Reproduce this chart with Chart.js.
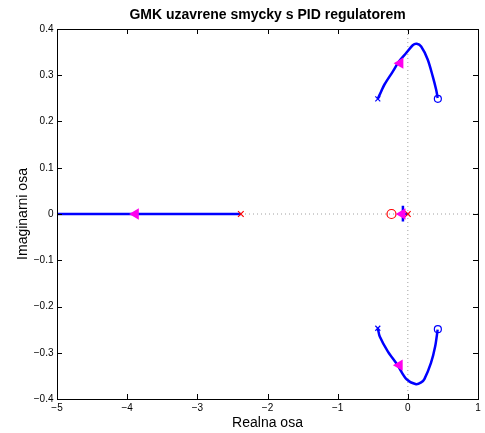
<!DOCTYPE html>
<html>
<head>
<meta charset="utf-8">
<script src="https://cdn.jsdelivr.net/npm/chart.js@4.4.1/dist/chart.umd.min.js"></script>
<style>
  body { margin: 0; background: #fff; }
  canvas { display: block; }
</style>
</head>
<body>
<canvas id="rlocus" width="485" height="433"></canvas>
<script>
const realAxisBranch = [[-2.38, 0], [-5, 0]];
const upperBranch = [
  [-0.428, 0.249], [-0.38, 0.265], [-0.333, 0.28], [-0.215, 0.308], [-0.13, 0.329],
  [-0.024, 0.348], [0.07, 0.365], [0.127, 0.368], [0.19, 0.362], [0.283, 0.334],
  [0.354, 0.298], [0.403, 0.269], [0.425, 0.251]
];
const lowerBranch = [
  [-0.428, -0.247], [-0.40, -0.265], [-0.286, -0.297], [-0.15, -0.326], [-0.02, -0.357],
  [0.118, -0.368], [0.19, -0.364], [0.236, -0.357], [0.33, -0.322], [0.39, -0.286],
  [0.425, -0.25]
];
const originBranch = [[0, 0], [-0.07, 0], [-0.07, 0.018], [-0.07, -0.016], [-0.07, 0], [-0.12, 0]];

const bluePoles = [[-0.428, 0.249], [-0.428, -0.247]];
const blueZeros = [[0.428, 0.249], [0.428, -0.249]];
const redPoles = [[-2.38, 0], [0, 0]];
const redZeros = [[-0.233, 0]];
const arrowPoints = [[-3.88, 0], [-0.11, 0.326], [-0.12, -0.327], [-0.08, 0]];

const xTicks = [-5, -4, -3, -2, -1, 0, 1];
const yTicks = [-0.4, -0.3, -0.2, -0.1, 0, 0.1, 0.2, 0.3, 0.4];

const toXY = (arr) => arr.map((p) => ({ x: p[0], y: p[1] }));
const minus = (s) => s.replace("-", "\u2212");
const FONT = "Liberation Sans, Arial, sans-serif";

// Ticks inside the box, on all four sides, plus the frame
const boxTicks = {
  id: "boxTicks",
  afterDatasetsDraw(chart) {
    const { ctx, chartArea: a, scales } = chart;
    ctx.save();
    ctx.strokeStyle = "#000";
    ctx.lineWidth = 1;
    ctx.beginPath();
    xTicks.forEach((v) => {
      const px = Math.round(scales.x.getPixelForValue(v)) + 0.5;
      ctx.moveTo(px, a.bottom); ctx.lineTo(px, a.bottom - 5);
      ctx.moveTo(px, a.top); ctx.lineTo(px, a.top + 5);
    });
    yTicks.forEach((v) => {
      const py = Math.round(scales.y.getPixelForValue(v)) + 0.5;
      ctx.moveTo(a.left, py); ctx.lineTo(a.left + 5, py);
      ctx.moveTo(a.right, py); ctx.lineTo(a.right - 5, py);
    });
    ctx.stroke();
    ctx.strokeRect(Math.round(a.left) + 0.5, Math.round(a.top) + 0.5,
      Math.round(a.right - a.left), Math.round(a.bottom - a.top));
    ctx.restore();
  },
};

const ctx = document.getElementById("rlocus").getContext("2d");
new Chart(ctx, {
  type: "scatter",
  data: {
    datasets: [
      {
        data: toXY(arrowPoints), pointStyle: "triangle", rotation: -90,
        pointRadius: 6.5, backgroundColor: "#ff00ee", borderColor: "#ff00ee", borderWidth: 0, showLine: false,
      },
      {
        data: toXY(redPoles), pointStyle: "crossRot", pointRadius: 4,
        borderColor: "#ff0000", borderWidth: 1.2, showLine: false,
      },
      {
        data: toXY(redZeros), pointStyle: "circle", pointRadius: 4.5,
        borderColor: "#ff0000", backgroundColor: "rgba(0,0,0,0)", borderWidth: 1.2, showLine: false,
      },
      {
        data: toXY(bluePoles), pointStyle: "crossRot", pointRadius: 3.5,
        borderColor: "#0000ff", borderWidth: 1.2, showLine: false,
      },
      {
        data: toXY(blueZeros), pointStyle: "circle", pointRadius: 3.5,
        borderColor: "#0000ff", backgroundColor: "rgba(0,0,0,0)", borderWidth: 1.2, showLine: false,
      },
      { data: toXY(realAxisBranch), showLine: true, borderColor: "#0000ff", borderWidth: 2.5, pointRadius: 0 },
      { data: toXY(upperBranch), showLine: true, borderColor: "#0000ff", borderWidth: 2.5, pointRadius: 0, tension: 0.3 },
      { data: toXY(lowerBranch), showLine: true, borderColor: "#0000ff", borderWidth: 2.5, pointRadius: 0, tension: 0.3 },
      { data: toXY(originBranch), showLine: true, borderColor: "#0000ff", borderWidth: 2.5, pointRadius: 0 },
      {
        data: [{ x: -5, y: 0 }, { x: 1, y: 0 }], showLine: true, pointRadius: 0,
        borderColor: "#a0a0a0", borderWidth: 1, borderDash: [1, 3],
      },
      {
        data: [{ x: 0, y: -0.4 }, { x: 0, y: 0.4 }], showLine: true, pointRadius: 0,
        borderColor: "#a0a0a0", borderWidth: 1, borderDash: [1, 3],
      },
    ],
  },
  options: {
    responsive: false,
    animation: false,
    layout: { padding: { left: 0, right: 7, top: 0, bottom: 0 } },
    plugins: {
      legend: { display: false },
      tooltip: { enabled: false },
      title: {
        display: true,
        fullSize: false,
        text: "GMK uzavrene smycky s PID regulatorem",
        color: "#000",
        font: { family: FONT, size: 14, weight: "bold" },
        padding: { top: 6.5, bottom: 5.7 },
      },
    },
    scales: {
      x: {
        type: "linear", min: -5, max: 1,
        afterBuildTicks: (s) => { s.ticks = xTicks.map((v) => ({ value: v })); },
        afterFit: (s) => { s.height = 34; },
        grid: { display: false, drawTicks: false },
        border: { display: false },
        ticks: {
          color: "#000", padding: 3, maxRotation: 0,
          font: { family: FONT, size: 10 },
          callback: (v) => minus(String(v)),
        },
        title: {
          display: true, text: "Realna osa", color: "#000",
          font: { family: FONT, size: 14 },
          padding: { top: 0, bottom: 1.6 },
        },
      },
      y: {
        type: "linear", min: -0.4, max: 0.4,
        afterBuildTicks: (s) => { s.ticks = yTicks.map((v) => ({ value: v })); },
        afterFit: (s) => { s.width = 57; },
        grid: { display: false, drawTicks: false },
        border: { display: false },
        ticks: {
          color: "#000", padding: 3.5,
          font: { family: FONT, size: 10 },
          callback: (v) => (Math.abs(v) < 1e-9 ? "0" : minus(v.toFixed(1))),
        },
        title: {
          display: true, text: "Imaginarni osa", color: "#000",
          font: { family: FONT, size: 14 },
          padding: { top: 14.6, bottom: 0 },
        },
      },
    },
  },
  plugins: [boxTicks],
});
</script>
</body>
</html>
